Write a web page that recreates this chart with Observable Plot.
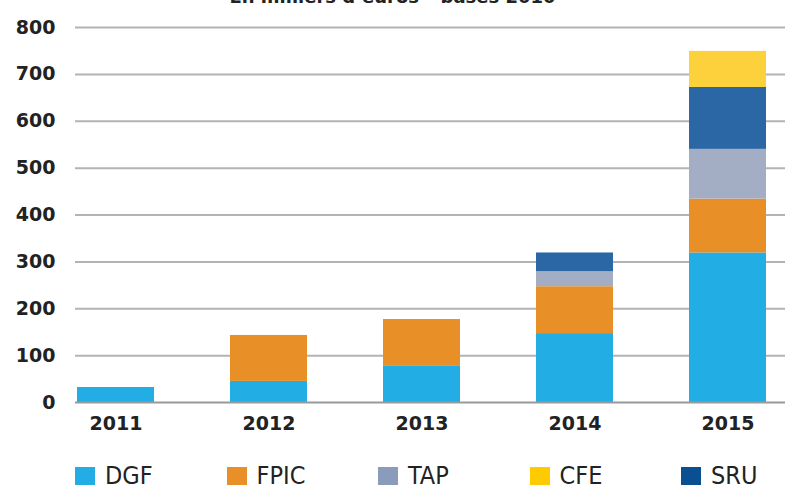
<!DOCTYPE html>
<html>
<head>
<meta charset="utf-8">
<script src="https://cdn.jsdelivr.net/npm/d3@7"></script>
<script src="https://cdn.jsdelivr.net/npm/@observablehq/plot@0.6"></script>
<style>
  html, body { margin: 0; padding: 0; background: #fff; }
  body { width: 785px; height: 489px; position: relative; overflow: hidden; font-family: "DejaVu Sans", sans-serif; }
  #title { position: absolute; z-index: 2; top: -12px; left: 0; width: 785px; text-align: center; font-weight: bold; font-size: 18px; color: #222; line-height: 18px; }
  #chart { position: absolute; top: 0; left: 0; z-index: 1; }
  #legend { position: absolute; top: 462px; left: 0; width: 785px; height: 27px; }
  .item { position: absolute; top: 0; height: 27px; display: flex; align-items: flex-start; }
  .sw { width: 20px; height: 18px; margin-top: 5px; }
  .lab { font-family: "DejaVu Sans Condensed", "DejaVu Sans", sans-serif; font-stretch: condensed; font-size: 25px; color: #222; margin-left: 10px; line-height: 25px; margin-top: 1px; }
</style>
</head>
<body>
<div id="title">En milliers d’euros – bases 2010</div>
<div id="chart"></div>
<div id="legend"></div>
<script>
const years = ["2011", "2012", "2013", "2014", "2015"];
const seriesNames = ["DGF", "FPIC", "TAP", "SRU", "CFE"];
const DGF  = [32, 45, 77, 147, 319];
const FPIC = [0, 98, 100, 100, 115];
const TAP  = [0, 0, 0, 32, 106];
const SRU  = [0, 0, 0, 40, 132];
const CFE  = [0, 0, 0, 0, 77];
const yTicks = [0, 100, 200, 300, 400, 500, 600, 700, 800];
const legendOrder = ["DGF", "FPIC", "TAP", "CFE", "SRU"];
const barColors = {DGF: "#22aee4", FPIC: "#e88f27", TAP: "#a3aec4", SRU: "#2b67a5", CFE: "#fdd13b"};
const legendColors = {DGF: "#22aee4", FPIC: "#e88f27", TAP: "#8a9bbb", CFE: "#fecb00", SRU: "#0a4f92"};

const seriesValues = {DGF, FPIC, TAP, SRU, CFE};
const rows = [];
for (const s of seriesNames) {
  years.forEach((y, i) => {
    if (seriesValues[s][i] > 0) rows.push({year: y, series: s, value: seriesValues[s][i]});
  });
}

const chart = Plot.plot({
  width: 785,
  height: 445,
  marginLeft: 75,
  marginRight: 0,
  marginTop: 27,
  marginBottom: 43,
  style: {fontFamily: "DejaVu Sans, sans-serif", fontWeight: "bold", color: "#222", background: "transparent"},
  x: {domain: years, range: [77, 766], paddingInner: 0.5, paddingOuter: 0, label: null},
  y: {domain: [0, 800], ticks: yTicks, label: null},
  color: {domain: seriesNames, range: seriesNames.map(s => barColors[s])},
  marks: [
    Plot.ruleY(yTicks.filter(d => d > 0), {stroke: "#b3b3b3", strokeWidth: 2}),
    Plot.barY(rows, {x: "year", y: "value", fill: "series", order: seriesNames}),
    Plot.ruleY([0], {stroke: "#999", strokeWidth: 2}),
    Plot.axisX({tickSize: 0, tickPadding: 14, fontSize: 19, fontWeight: "bold", label: null}),
    Plot.axisY({ticks: yTicks, tickSize: 0, tickPadding: 20, fontSize: 19, fontWeight: "bold", label: null})
  ]
});
chart.querySelectorAll("text").forEach(t => t.setAttribute("fill", "#222"));
document.getElementById("chart").appendChild(chart);

const legend = document.getElementById("legend");
legendOrder.forEach((s, i) => {
  const item = document.createElement("div");
  item.className = "item";
  item.style.left = (75 + 151.5 * i) + "px";
  const sw = document.createElement("div");
  sw.className = "sw";
  sw.style.background = legendColors[s];
  const lab = document.createElement("span");
  lab.className = "lab";
  lab.textContent = s;
  item.appendChild(sw);
  item.appendChild(lab);
  legend.appendChild(item);
});
</script>
</body>
</html>
